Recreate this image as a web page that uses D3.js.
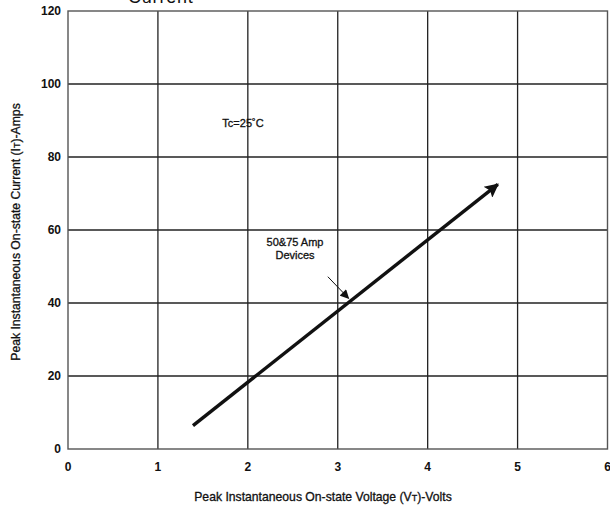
<!DOCTYPE html>
<html>
<head>
<meta charset="utf-8">
<script src="https://cdn.jsdelivr.net/npm/d3@7"></script>
<style>
  body { margin: 0; background: #fff; }
  text { font-family: "Liberation Sans", Arial, sans-serif; fill: #111; stroke: #111; stroke-width: 0.3px; }
</style>
</head>
<body>
<div id="chart"></div>
<script>
// chart data
const xTicks = [0, 1, 2, 3, 4, 5, 6];
const yTicks = [0, 20, 40, 60, 80, 100, 120];
const curveVolts = [1.39, 4.78];
const curveAmps = [6.4, 72.5];
const calloutVolts = [2.89, 3.12];
const calloutAmps = [47.2, 41.3];
const deviceLabel = ['50&75 Amp', 'Devices'];

const width = 610, height = 509;
const margin = { top: 11, right: 2, bottom: 60, left: 68 };

const svg = d3.select('#chart').append('svg')
  .attr('width', width)
  .attr('height', height);

const x = d3.scaleLinear().domain([0, 6]).range([margin.left, width - margin.right - 0.5]);
const y = d3.scaleLinear().domain([0, 120]).range([height - margin.bottom, margin.top]);

const defs = svg.append('defs');
defs.append('marker')
  .attr('id', 'bigHead')
  .attr('viewBox', '0 0 10 10')
  .attr('refX', 9).attr('refY', 5)
  .attr('markerWidth', 16).attr('markerHeight', 14)
  .attr('markerUnits', 'userSpaceOnUse')
  .attr('orient', 'auto')
  .append('path').attr('d', 'M0,0 L10,5 L0,10 L2,5 Z').attr('fill', '#111');
defs.append('marker')
  .attr('id', 'smallHead')
  .attr('viewBox', '0 0 10 10')
  .attr('refX', 9).attr('refY', 5)
  .attr('markerWidth', 10).attr('markerHeight', 9)
  .attr('markerUnits', 'userSpaceOnUse')
  .attr('orient', 'auto')
  .append('path').attr('d', 'M0,0 L10,5 L0,10 Z').attr('fill', '#111');

// title peeking in at the top
svg.append('text')
  .attr('x', 128).attr('y', 3)
  .style('font-size', '18px')
  .style('letter-spacing', '0.8px')
  .style('stroke-width', '0px')
  .text('Current');

// grid
const grid = svg.append('g');
grid.selectAll('.vline')
  .data(xTicks.slice(1, -1))
  .enter().append('line')
  .attr('x1', d => x(d)).attr('x2', d => x(d))
  .attr('y1', y(120)).attr('y2', y(0))
  .attr('stroke', '#222').attr('stroke-width', 1.3);
grid.selectAll('.hline')
  .data(yTicks.slice(1, -1))
  .enter().append('line')
  .attr('x1', x(0)).attr('x2', x(6))
  .attr('y1', d => y(d)).attr('y2', d => y(d))
  .attr('stroke', '#222').attr('stroke-width', 1.3);

// frame
svg.append('rect')
  .attr('x', x(0)).attr('y', y(120))
  .attr('width', x(6) - x(0)).attr('height', y(0) - y(120))
  .attr('fill', 'none')
  .attr('stroke', '#555').attr('stroke-width', 1.4);

// tick labels
svg.selectAll('.xlab')
  .data(xTicks)
  .enter().append('text')
  .attr('x', d => x(d)).attr('y', y(0) + 22)
  .attr('text-anchor', 'middle')
  .style('font-size', '12px').style('font-weight', 'bold').style('stroke-width', '0px')
  .text(d => d);
svg.selectAll('.ylab')
  .data(yTicks)
  .enter().append('text')
  .attr('x', x(0) - 7).attr('y', d => y(d) + 4)
  .attr('text-anchor', 'end')
  .style('font-size', '12px').style('font-weight', 'bold').style('stroke-width', '0px')
  .text(d => d);

// axis titles
const xt = svg.append('text')
  .attr('x', 323).attr('y', 501)
  .attr('text-anchor', 'middle')
  .style('font-size', '12.2px');
xt.append('tspan').text('Peak Instantaneous On-state Voltage (V');
xt.append('tspan').style('font-size', '9px').text('T');
xt.append('tspan').text(')-Volts');

const yt = svg.append('text')
  .attr('transform', 'translate(20,' + (y(60) + 2) + ') rotate(-90)')
  .attr('text-anchor', 'middle')
  .style('font-size', '12.2px');
yt.append('tspan').text('Peak Instantaneous On-state Current (I');
yt.append('tspan').style('font-size', '9px').text('T');
yt.append('tspan').text(')-Amps');

// the characteristic
const line = d3.line().x(d => x(d[0])).y(d => y(d[1]));
svg.append('path')
  .attr('d', line(d3.zip(curveVolts, curveAmps)))
  .attr('stroke', '#111').attr('stroke-width', 3.4)
  .attr('fill', 'none')
  .attr('marker-end', 'url(#bigHead)');

// annotations
svg.append('text')
  .attr('x', 243).attr('y', 127)
  .attr('text-anchor', 'middle')
  .style('font-size', '11px')
  .text('Tc=25˚C');

svg.append('text')
  .attr('x', 295).attr('y', 246)
  .attr('text-anchor', 'middle')
  .style('font-size', '11px')
  .selectAll('tspan')
  .data(deviceLabel)
  .enter().append('tspan')
  .attr('x', 295).attr('dy', (d, i) => i ? 13 : 0)
  .text(d => d);

svg.append('path')
  .attr('d', line(d3.zip(calloutVolts, calloutAmps)))
  .attr('stroke', '#111').attr('stroke-width', 1)
  .attr('fill', 'none')
  .attr('marker-end', 'url(#smallHead)');
</script>
</body>
</html>
